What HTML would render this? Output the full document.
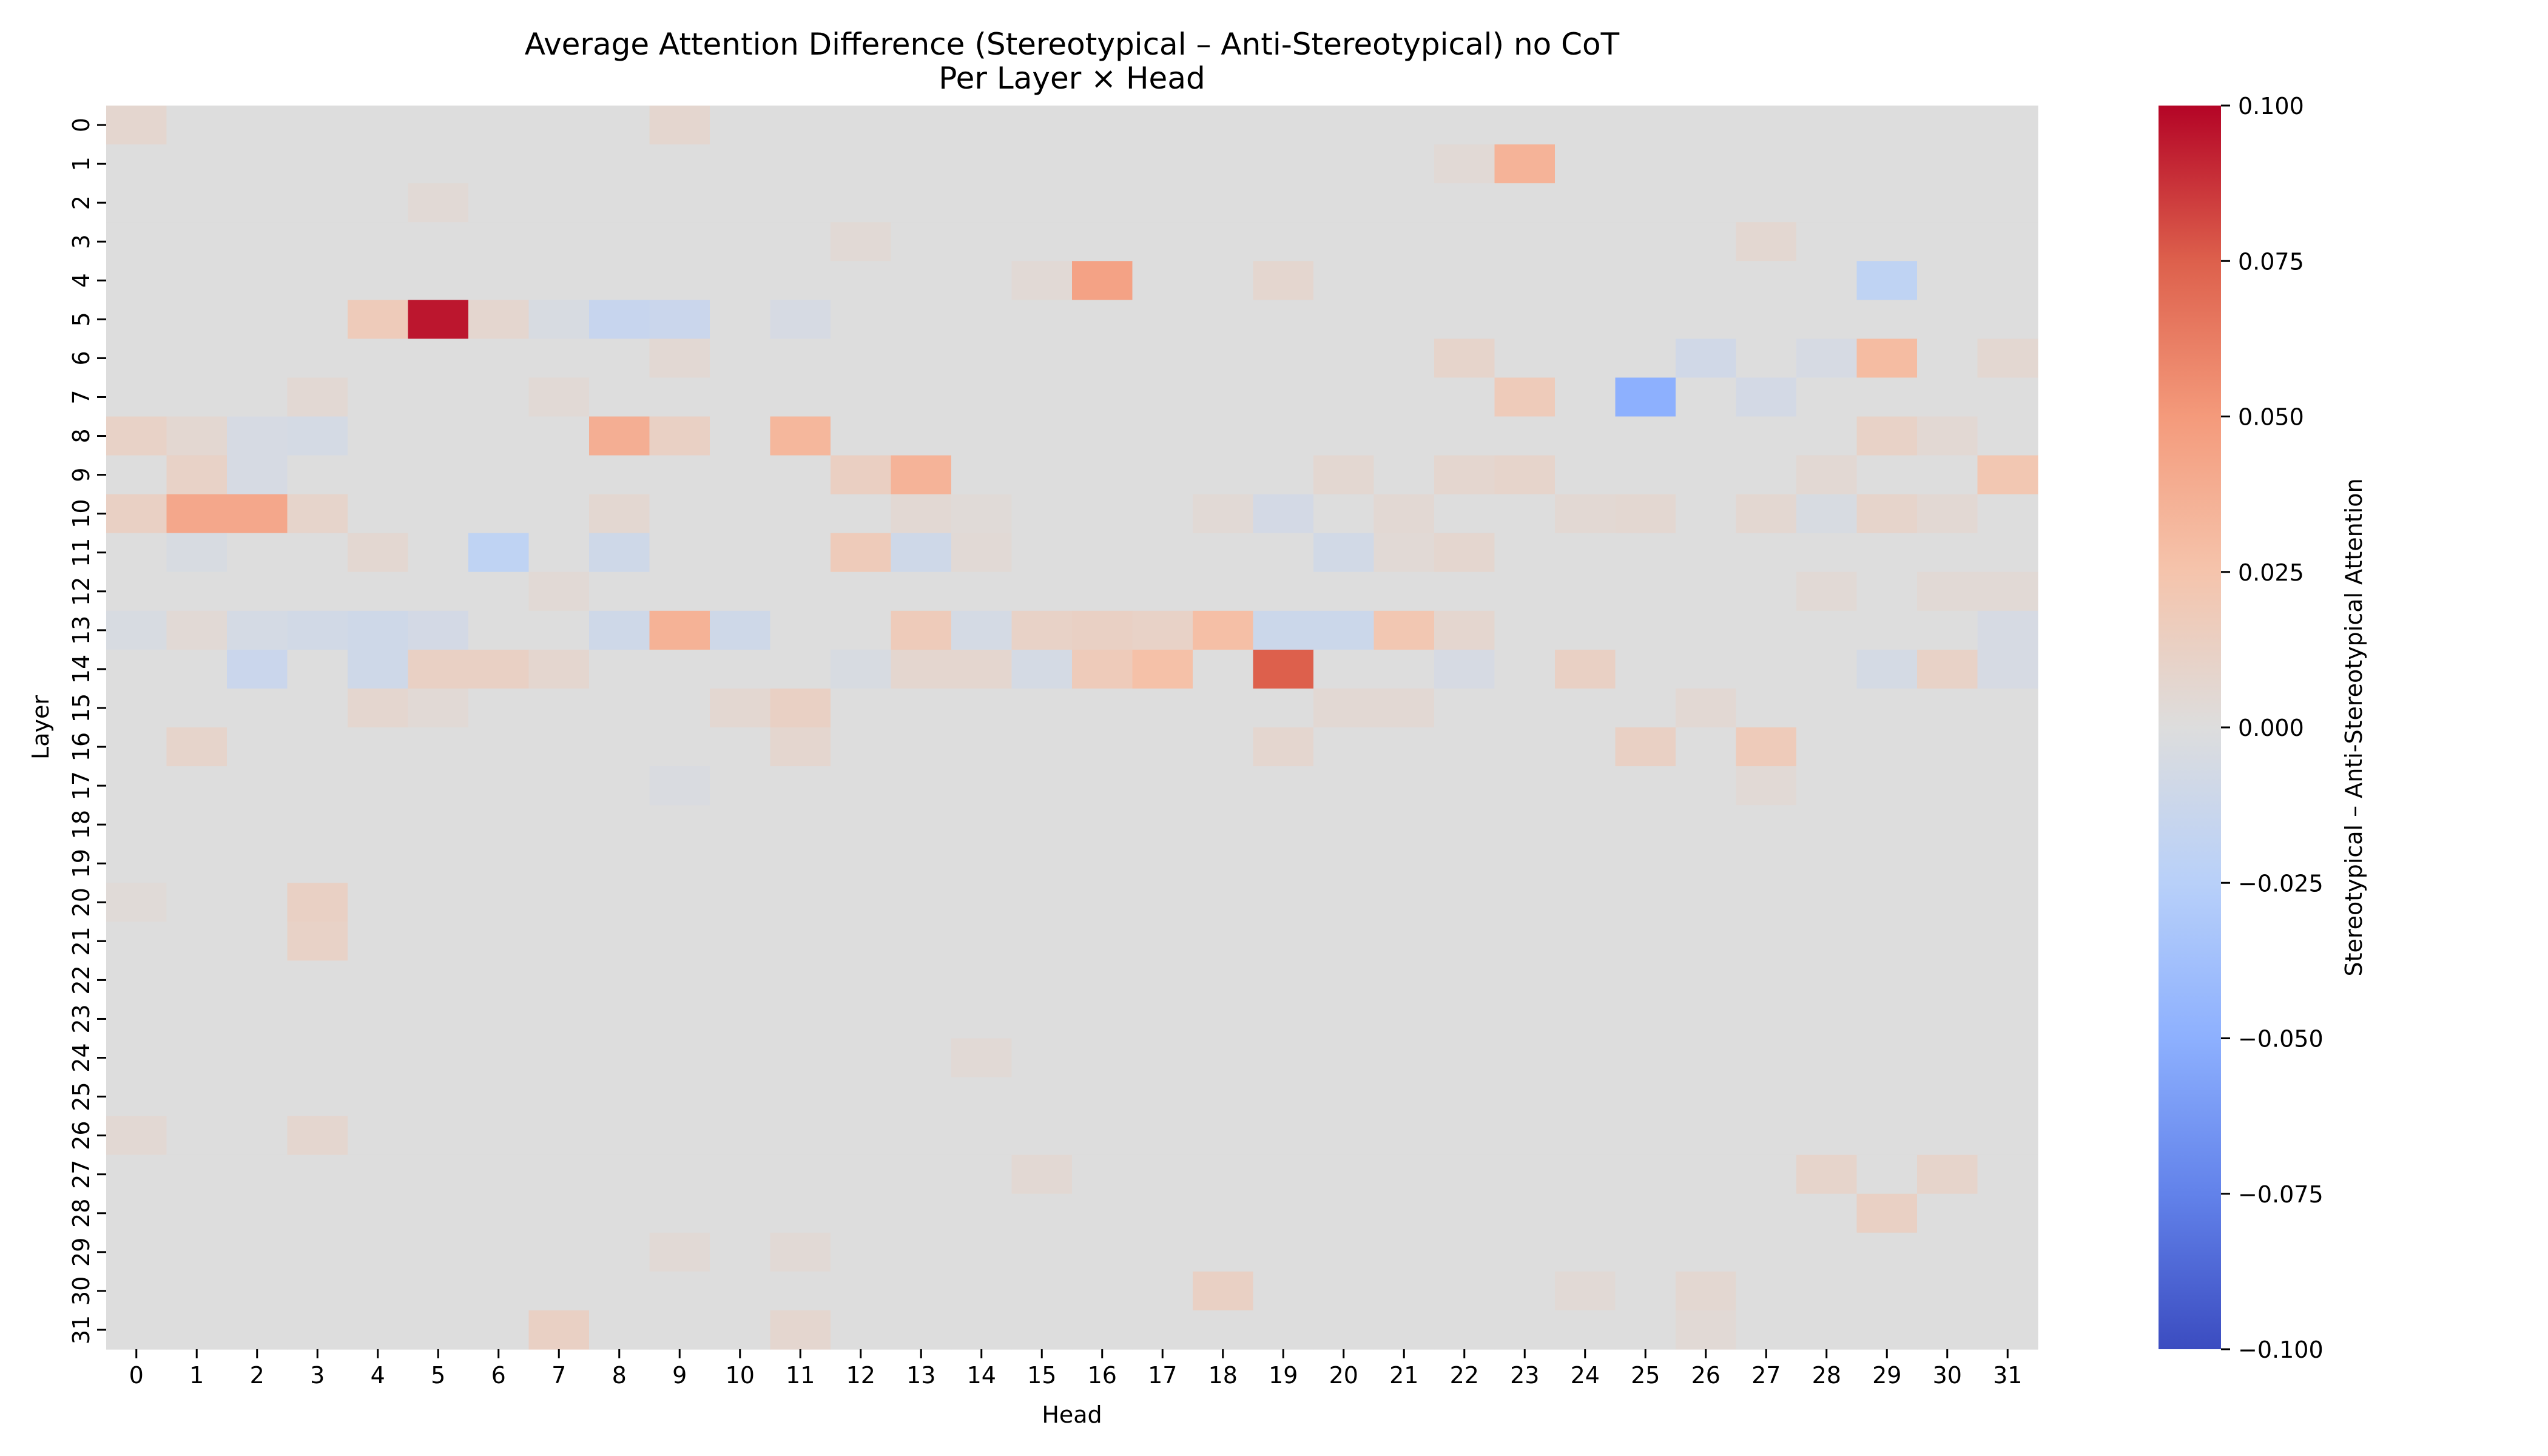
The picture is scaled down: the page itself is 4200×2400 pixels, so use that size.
<!DOCTYPE html>
<html><head><meta charset="utf-8"><style>
html,body{margin:0;padding:0;background:#fff;}
svg{display:block;font-family:"DejaVu Sans","Liberation Sans",sans-serif;}
</style></head><body>
<svg id="chart" width="4200" height="2400" viewBox="0 0 4200 2400" xmlns="http://www.w3.org/2000/svg">
<defs>
<linearGradient id="cbgrad" x1="0" y1="1" x2="0" y2="0">
<stop offset="0" stop-color="#3b4cc0"/><stop offset="0.125" stop-color="#6282ea"/>
<stop offset="0.25" stop-color="#8db0fe"/><stop offset="0.375" stop-color="#b8d0f9"/>
<stop offset="0.5" stop-color="#dddddd"/><stop offset="0.625" stop-color="#f5c4ac"/>
<stop offset="0.75" stop-color="#f49a7b"/><stop offset="0.875" stop-color="#dd604c"/>
<stop offset="1" stop-color="#b40426"/>
</linearGradient>
</defs>
<g id="cells"></g>
<g id="axes"></g>
<text x="1767" y="90" font-size="50" text-anchor="middle">Average Attention Difference (Stereotypical – Anti-Stereotypical) no CoT</text>
<text x="1767" y="146" font-size="50" text-anchor="middle">Per Layer × Head</text>
<text x="1767" y="2345" font-size="38" text-anchor="middle">Head</text>
<text x="0" y="0" font-size="38" text-anchor="middle" transform="translate(80,1199) rotate(-90)">Layer</text>
<rect x="3558" y="174" width="103" height="2050" fill="url(#cbgrad)"/>
<text x="0" y="0" font-size="38" text-anchor="middle" transform="translate(3893,1199) rotate(-90)">Stereotypical – Anti-Stereotypical Attention</text>
</svg>
<script>
const heads = Array.from({length:32},(_,i)=>i);
const layers = Array.from({length:32},(_,i)=>i);
const cbTicks = [-0.1,-0.075,-0.05,-0.025,0,0.025,0.05,0.075,0.1];
const cbTickLabels = ["−0.100","−0.075","−0.050","−0.025","0.000","0.025","0.050","0.075","0.100"];
const cellLayer = [0,0,1,1,2,3,3,4,4,4,4,5,5,5,5,5,5,5,6,6,6,6,6,6,7,7,7,7,7,8,8,8,8,8,8,8,8,8,9,9,9,9,9,9,9,9,9,10,10,10,10,10,10,10,10,10,10,10,10,10,10,10,10,11,11,11,11,11,11,11,11,11,11,12,12,12,12,13,13,13,13,13,13,13,13,13,13,13,13,13,13,13,13,13,13,13,13,14,14,14,14,14,14,14,14,14,14,14,14,14,14,14,14,14,15,15,15,15,15,15,15,16,16,16,16,16,17,17,20,20,21,24,26,26,27,27,27,28,29,29,30,30,30,31,31,31];
const cellHead = [0,9,23,22,5,12,27,16,19,15,29,4,5,6,8,9,7,11,22,29,26,31,9,28,23,25,27,3,7,0,1,2,3,8,9,11,29,30,1,12,13,20,22,23,31,2,28,0,1,2,3,8,18,19,21,24,25,27,29,30,28,13,14,4,6,8,12,13,14,20,21,22,1,7,28,30,31,0,1,2,3,4,5,8,9,10,13,14,15,16,17,18,19,20,21,22,31,2,4,5,6,7,12,13,14,15,16,17,19,22,24,29,30,31,4,5,10,11,20,21,26,1,11,19,25,27,27,9,3,0,3,14,0,3,15,28,30,29,9,11,18,24,26,7,11,26];
const cellValue = [0.007,0.007,0.035,0.004,0.004,0.004,0.006,0.045,0.007,0.004,-0.02,0.018,0.095,0.007,-0.015,-0.013,-0.004,-0.005,0.009,0.03,-0.009,0.006,0.005,-0.005,0.018,-0.05,-0.007,0.005,0.004,0.011,0.006,-0.005,-0.006,0.038,0.013,0.033,0.011,0.005,0.011,0.014,0.035,0.006,0.007,0.009,0.022,-0.005,0.005,0.013,0.042,0.042,0.009,0.006,0.004,-0.007,0.005,0.005,0.006,0.006,0.009,0.005,-0.004,0.005,0.003,0.006,-0.02,-0.01,0.018,-0.01,0.004,-0.008,0.004,0.007,-0.004,0.004,0.004,0.004,0.004,-0.004,0.004,-0.006,-0.008,-0.01,-0.007,-0.01,0.036,-0.01,0.018,-0.006,0.011,0.013,0.011,0.028,-0.012,-0.012,0.022,0.007,-0.005,-0.013,-0.01,0.013,0.013,0.007,-0.004,0.007,0.007,-0.006,0.018,0.027,0.075,-0.005,0.013,-0.006,0.011,-0.005,0.007,0.004,0.006,0.013,0.005,0.005,0.005,0.009,0.007,0.007,0.013,0.018,0.004,-0.003,0.013,0.003,0.011,0.004,0.005,0.007,0.005,0.009,0.009,0.013,0.004,0.004,0.013,0.004,0.006,0.013,0.007,0.004];

const NS="http://www.w3.org/2000/svg";
const X0=175,X1=3359,Y0=174,Y1=2224;
const cw=(X1-X0)/heads.length, ch=(Y1-Y0)/layers.length;
const xScale=h=>X0+h*cw, yScale=l=>Y0+l*ch;
const cbY=v=>Y1-(v+0.1)/0.2*(Y1-Y0);
const stops=[[59,76,192],[98,130,234],[141,176,254],[184,208,249],[221,221,221],[245,196,172],[244,154,123],[221,96,76],[180,4,38]];
function color(v){let t=Math.max(0,Math.min(1,(v+0.1)/0.2))*8;let i=Math.min(7,Math.floor(t)),f=t-i;
const a=stops[i],b=stops[i+1];return `rgb(${a.map((c,k)=>Math.round(c+(b[k]-c)*f)).join(',')})`;}
const grid=layers.map(()=>heads.map(()=>0));
cellValue.forEach((v,i)=>{grid[cellLayer[i]][cellHead[i]]=v;});
const cells=document.getElementById('cells');
layers.forEach(l=>heads.forEach(h=>{
const r=document.createElementNS(NS,'rect');
r.setAttribute('x',xScale(h));r.setAttribute('y',yScale(l));
r.setAttribute('width',cw+0.6);r.setAttribute('height',ch+0.6);
r.setAttribute('fill',color(grid[l][h]));


cells.appendChild(r);}));
const axes=document.getElementById('axes');
function add(tag,attrs,txt){const e=document.createElementNS(NS,tag);for(const k in attrs)e.setAttribute(k,attrs[k]);if(txt!==undefined)e.textContent=txt;axes.appendChild(e);return e;}
heads.forEach(h=>{const x=xScale(h)+cw/2;
const t=add('line',{x1:x,y1:Y1,x2:x,y2:Y1+15,stroke:'#000','stroke-width':3});


const lb=add('text',{x:x,y:Y1+56,'font-size':38,'text-anchor':'middle'},String(h));

});
layers.forEach(l=>{const y=yScale(l)+ch/2;
const t=add('line',{x1:X0-15,y1:y,x2:X0,y2:y,stroke:'#000','stroke-width':3});


const lb=add('text',{x:0,y:0,'font-size':38,'text-anchor':'middle',transform:`translate(${X0-28},${y}) rotate(-90)`},String(l));

});
cbTicks.forEach((v,i)=>{const y=cbY(v);
const t=add('line',{x1:3661,y1:y,x2:3676,y2:y,stroke:'#000','stroke-width':3});


const lb=add('text',{x:3689,y:y+14,'font-size':38},cbTickLabels[i]);

});
</script>
</body></html>
